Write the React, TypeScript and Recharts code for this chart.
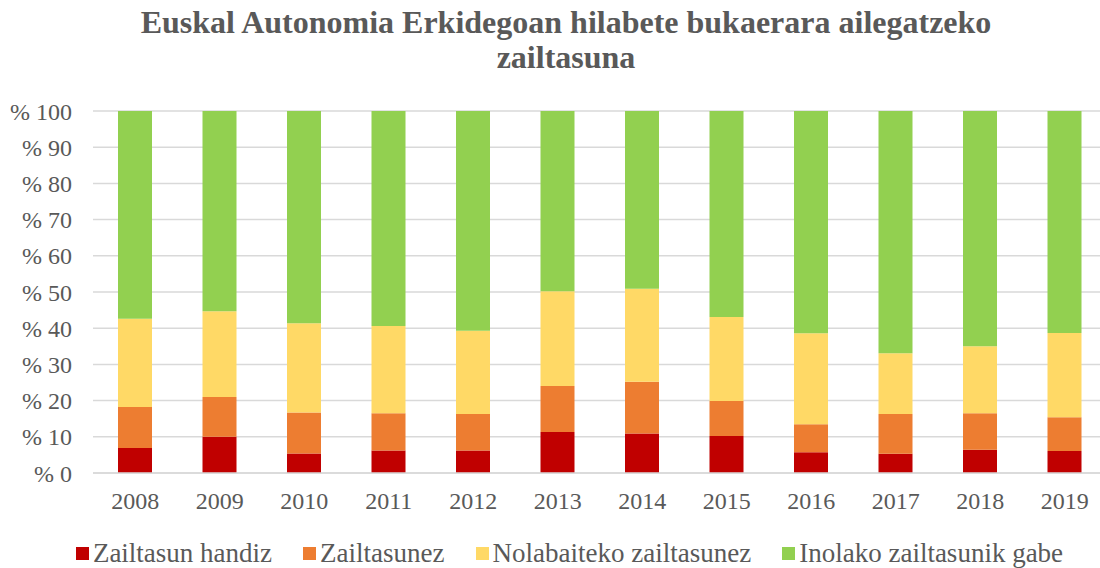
import { BarChart, Bar, XAxis, YAxis, CartesianGrid } from 'recharts'

const years = ['2008', '2009', '2010', '2011', '2012', '2013', '2014', '2015', '2016', '2017', '2018', '2019']

// share of households by difficulty reaching month end (%)
const handiz = [6.9, 10.0, 5.4, 6.2, 6.2, 11.3, 10.9, 10.2, 5.7, 5.3, 6.4, 6.1]
const zailtasunez = [11.3, 11.0, 11.3, 10.3, 10.1, 12.7, 14.3, 9.7, 7.8, 11.0, 10.1, 9.3]
const nolabaiteko = [24.4, 23.7, 24.7, 24.1, 23.0, 26.2, 25.7, 23.2, 25.1, 16.8, 18.5, 23.3]
const gabe = [57.4, 55.3, 58.6, 59.4, 60.7, 49.8, 49.1, 56.9, 61.4, 66.9, 65.0, 61.3]

const yTicks = [0, 10, 20, 30, 40, 50, 60, 70, 80, 90, 100]

const series = [
  { key: 'handiz', name: 'Zailtasun handiz', color: '#C00000' },
  { key: 'zailtasunez', name: 'Zailtasunez', color: '#ED7D31' },
  { key: 'nolabaiteko', name: 'Nolabaiteko zailtasunez', color: '#FFD966' },
  { key: 'gabe', name: 'Inolako zailtasunik gabe', color: '#92D050' },
]

const data = years.map((year, i) => ({
  year,
  handiz: handiz[i],
  zailtasunez: zailtasunez[i],
  nolabaiteko: nolabaiteko[i],
  gabe: gabe[i],
}))

const FONT = '"Liberation Serif", "Times New Roman", serif'
const TEXT = '#595959'

export default function App() {
  return (
    <div
      style={{
        position: 'absolute',
        left: 0,
        top: 0,
        width: 1100,
        height: 568,
        overflow: 'hidden',
        background: '#fff',
        fontFamily: FONT,
      }}
    >
      <div
        style={{
          position: 'absolute',
          left: 0,
          top: 5,
          width: 1132,
          textAlign: 'center',
          fontWeight: 'bold',
          fontSize: 32,
          lineHeight: '35px',
          color: TEXT,
        }}
      >
        Euskal Autonomia Erkidegoan hilabete bukaerara ailegatzeko
        <br />
        zailtasuna
      </div>

      <BarChart
        width={1107}
        height={568}
        data={data}
        margin={{ top: 111, right: 0, left: 0, bottom: 65 }}
        barSize={34}
      >
        <CartesianGrid vertical={false} stroke="#D9D9D9" strokeWidth={1.5} />
        <XAxis
          dataKey="year"
          axisLine={{ stroke: '#D9D9D9', strokeWidth: 1.5 }}
          tickLine={false}
          tickMargin={13}
          tick={{ fontSize: 24, fill: TEXT, fontFamily: FONT }}
        />
        <YAxis
          width={93}
          domain={[0, 100]}
          ticks={yTicks}
          axisLine={false}
          tickLine={false}
          tickMargin={15}
          tickFormatter={(v: number) => `% ${v}`}
          tick={{ fontSize: 24, fill: TEXT, fontFamily: FONT }}
        />
        {series.map((s) => (
          <Bar key={s.key} dataKey={s.key} name={s.name} stackId="a" fill={s.color} isAnimationActive={false} />
        ))}
      </BarChart>

      <div
        style={{
          position: 'absolute',
          left: 0,
          top: 536,
          width: 1139,
          display: 'flex',
          justifyContent: 'center',
          gap: 31,
          fontSize: 27,
          lineHeight: '34px',
          color: TEXT,
        }}
      >
        {series.map((s) => (
          <div key={s.key} style={{ display: 'flex', alignItems: 'center', gap: 4 }}>
            <span style={{ width: 13, height: 13, background: s.color, display: 'inline-block' }} />
            <span>{s.name}</span>
          </div>
        ))}
      </div>
    </div>
  )
}
